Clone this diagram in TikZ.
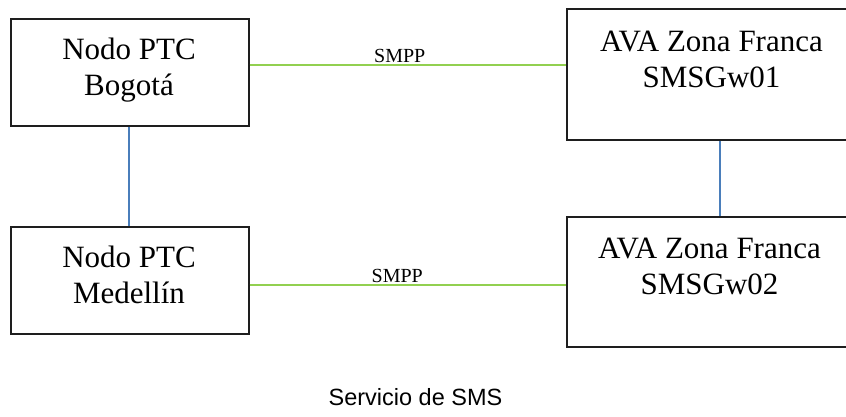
\documentclass[tikz,border=0pt]{standalone}
\usepackage{fontspec}
\setmainfont{Liberation Serif}
\newfontfamily\capfont{Liberation Sans}
\definecolor{linkgreen}{RGB}{146,208,80}
\definecolor{linkblue}{RGB}{74,126,187}
\definecolor{boxline}{RGB}{30,30,30}
\begin{document}
\begin{tikzpicture}[x=1pt,y=-1pt,
  boxnode/.style={draw=boxline,line width=1.3pt,rectangle,inner sep=0pt},
  labeltext/.style={font=\fontsize{31}{36}\selectfont,align=center,anchor=base,inner sep=0pt},
  smpptext/.style={font=\fontsize{20}{24}\selectfont,anchor=base,inner sep=0pt},
  greenlink/.style={draw=linkgreen,line width=2pt},
  bluelink/.style={draw=linkblue,line width=1.5pt}]
\useasboundingbox (0,0) rectangle (846,416);
\clip (0,0) rectangle (846,416);
\node[boxnode,minimum width=238pt,minimum height=107pt] (b1) at (130,72.5) {};
\node[boxnode,minimum width=289pt,minimum height=131pt] (b2) at (711.5,74.5) {};
\node[boxnode,minimum width=238pt,minimum height=107pt] (b3) at (130,280.5) {};
\node[boxnode,minimum width=289pt,minimum height=130pt] (b4) at (711.5,282) {};
\node[labeltext] (t1) at (129,95) {Nodo PTC\\Bogotá};
\node[labeltext] (t2) at (711.5,87) {AVA Zona Franca\\SMSGw01};
\node[labeltext] (t3) at (129,303) {Nodo PTC\\Medellín};
\node[labeltext] (t4) at (709.5,294) {AVA Zona Franca\\SMSGw02};
\draw[greenlink] ([yshift=7.5pt]b1.east) -- ([yshift=7.5pt]b1.east -| b2.west)
  node[smpptext,pos=0.474,yshift=3pt] (s1) {SMPP};
\draw[greenlink] ([yshift=-4.5pt]b3.east) -- ([yshift=-4.5pt]b3.east -| b4.west)
  node[smpptext,pos=0.466,yshift=3pt] (s2) {SMPP};
\draw[bluelink] ([xshift=-1pt]b1.south) -- ([xshift=-1pt]b3.north);
\draw[bluelink] ([xshift=8.5pt]b2.south) -- ([xshift=8.5pt]b2.south |- b4.north);
\node[font=\capfont\fontsize{23.5}{28}\selectfont,anchor=base,inner sep=0pt] (cap) at (415.5,405) {Servicio de SMS};
\end{tikzpicture}
\end{document}
